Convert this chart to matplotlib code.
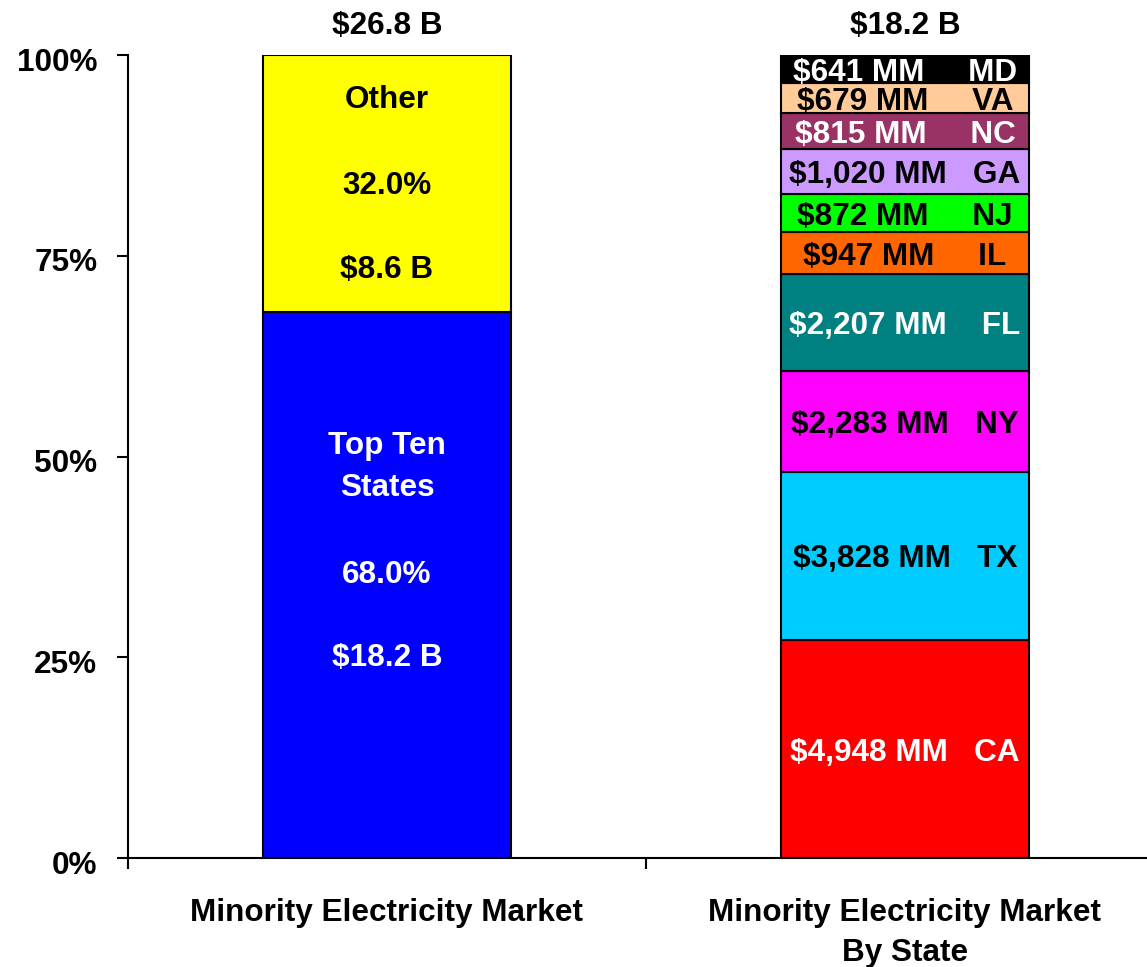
import matplotlib
matplotlib.use("Agg")
import matplotlib.pyplot as plt
from matplotlib.transforms import ScaledTranslation

plt.rcParams['font.family'] = ['Liberation Sans', 'DejaVu Sans']
plt.rcParams['font.weight'] = 'bold'

# ---- data ----
categories = ["Minority Electricity Market", "Minority Electricity Market\nBy State"]
totals = ["$26.8 B", "$18.2 B"]

market_parts = ["Top Ten States", "Other"]
market_pct = [68.0, 32.0]
market_dollars = ["$18.2 B", "$8.6 B"]
market_colors = ["#0000FF", "#FFFF00"]

states = ["CA", "TX", "NY", "FL", "IL", "NJ", "GA", "NC", "VA", "MD"]
state_mm = [4948, 3828, 2283, 2207, 947, 872, 1020, 815, 679, 641]
state_colors = ["#FF0000", "#00CCFF", "#FF00FF", "#008080", "#FF6600",
                "#00FF00", "#CC99FF", "#993366", "#FFCC99", "#000000"]
state_text = ["white", "black", "black", "white", "black",
              "black", "black", "white", "black", "white"]
state_gap = [3, 3, 3, 4, 5, 5, 3, 5, 5, 5]

yticks = [0, 25, 50, 75, 100]
ytick_labels = ["0%", "25%", "50%", "75%", "100%"]

FS = 22.7
W, H = 1147, 967
fig = plt.figure(figsize=(W / 100, H / 100), dpi=100)
ax = fig.add_axes([128 / W, (H - 858) / H, 1036 / W, 803 / H])

bw = 0.477
VA = "center_baseline"
# left bar
bottom = 0
for p, c in zip(market_pct, market_colors):
    ax.bar(0, p, bw, bottom=bottom, color=c, edgecolor="black", linewidth=1.5, zorder=2)
    bottom += p

ax.text(0, 94.8, "Other", ha="center", va=VA, fontsize=FS, color="black")
ax.text(0, 84.1, f"{market_pct[1]:.1f}%", ha="center", va=VA, fontsize=FS, color="black")
ax.text(0, 73.6, market_dollars[1], ha="center", va=VA, fontsize=FS, color="black")
ax.text(0, 51.7, "Top Ten", ha="center", va=VA, fontsize=FS, color="white")
ax.text(0, 46.5, "States", ha="center", va=VA, fontsize=FS, color="white")
ax.text(0, 35.7, f"{market_pct[0]:.1f}%", ha="center", va=VA, fontsize=FS, color="white")
ax.text(0, 25.4, market_dollars[0], ha="center", va=VA, fontsize=FS, color="white")

# right bar
total = sum(state_mm)
bottom = 0
for s, v, c, tc, g in zip(states, state_mm, state_colors, state_text, state_gap):
    h = v / total * 100
    ax.bar(1, h, bw, bottom=bottom, color=c, edgecolor="black", linewidth=1.5, zorder=2)
    ax.text(1, bottom + h / 2, f"${v:,} MM" + " " * g + s, ha="center", va=VA,
            fontsize=FS, color=tc, zorder=3)
    bottom += h

for i, t in enumerate(totals):
    ax.text(i, 104.0, t, ha="center", va=VA, fontsize=FS, color="black", clip_on=False)

ax.set_xlim(-0.5, 1.5)
ax.set_ylim(0, 100)
ax.set_yticks(yticks)
ax.set_yticklabels(ytick_labels, fontsize=FS, va="center_baseline")
ax.tick_params(axis="y", length=8, width=1.5, pad=14, direction="out")
offset = ScaledTranslation(0, -4 / 100, fig.dpi_scale_trans)
for lbl in ax.get_yticklabels():
    lbl.set_transform(lbl.get_transform() + offset)

ax.set_xticks([-0.5, 0.5, 1.5])
ax.set_xticklabels([])
ax.tick_params(axis="x", which="major", length=8, width=1.5, direction="out")
ax.set_xticks([0, 1], minor=True)
ax.set_xticklabels(categories, minor=True, fontsize=FS, linespacing=1.47, va="top")
ax.tick_params(axis="x", which="minor", length=0, pad=28.5)

for sp in ["top", "right"]:
    ax.spines[sp].set_visible(False)
for sp in ["left", "bottom"]:
    ax.spines[sp].set_linewidth(1.5)

fig.savefig("out.png", dpi=100)
